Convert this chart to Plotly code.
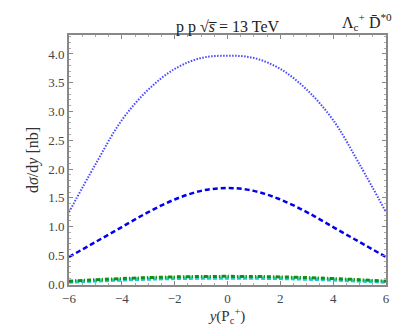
import plotly.graph_objects as go

rap = [-6, -5, -4, -3, -2, -1, 0, 1, 2, 3, 4, 5, 6]
dotted_blue = [1.25, 2.08, 2.85, 3.38, 3.74, 3.93, 3.97, 3.93, 3.74, 3.38, 2.85, 2.08, 1.25]
dashed_blue = [0.47, 0.73, 0.99, 1.25, 1.47, 1.62, 1.67, 1.62, 1.47, 1.25, 0.99, 0.73, 0.47]
green_dashdot = [0.05, 0.075, 0.095, 0.112, 0.124, 0.131, 0.133, 0.131, 0.124, 0.112, 0.095, 0.075, 0.05]
lightgreen = [0.045, 0.068, 0.088, 0.105, 0.117, 0.124, 0.126, 0.124, 0.117, 0.105, 0.088, 0.068, 0.045]
cyan_dashed = [0.03, 0.05, 0.068, 0.083, 0.094, 0.1, 0.102, 0.1, 0.094, 0.083, 0.068, 0.05, 0.03]

font = "Liberation Serif"

fig = go.Figure()
fig.add_trace(go.Scatter(x=rap, y=dotted_blue, mode="lines", line=dict(color="#4848ff", width=2, dash="1.5px,1.5px", shape="spline")))
fig.add_trace(go.Scatter(x=rap, y=dashed_blue, mode="lines", line=dict(color="#0000ee", width=2.5, dash="5px,3px", shape="spline")))
fig.add_trace(go.Scatter(x=rap, y=lightgreen, mode="lines", line=dict(color="#80d080", width=3, dash="3px,3px", shape="spline")))
fig.add_trace(go.Scatter(x=rap, y=cyan_dashed, mode="lines", line=dict(color="#20c8c8", width=3, dash="4px,2px", shape="spline")))
fig.add_trace(go.Scatter(x=rap, y=green_dashdot, mode="lines", line=dict(color="#109010", width=3, dash="4px,2px,1px,2px", shape="spline")))

fig.update_layout(
    width=407, height=326,
    margin=dict(l=61, r=29, t=27, b=49),
    paper_bgcolor="white", plot_bgcolor="white",
    showlegend=False,
    font=dict(family=font, size=13, color="#444"),
)
fig.update_xaxes(
    range=[-6, 6], tickvals=[-6, -4, -2, 0, 2, 4, 6],
    ticktext=["\u22126", "\u22124", "\u22122", "0", "2", "4", "6"],
    ticks="inside", ticklen=4, tickcolor="#888", showline=True, linecolor="#888", linewidth=2, mirror="allticks",
    showgrid=False, zeroline=False,
    title=dict(text="<i>y</i>(P<sub>c</sub><sup>+</sup>)", font=dict(size=15, color="#333"), standoff=0),
    minor=dict(ticks="inside", ticklen=2, tickcolor="#aaa", dtick=0.5),
)
fig.update_yaxes(
    range=[-0.017, 4.33], tickvals=[0, 0.5, 1, 1.5, 2, 2.5, 3, 3.5, 4],
    ticktext=["0.0", "0.5", "1.0", "1.5", "2.0", "2.5", "3.0", "3.5", "4.0"],
    ticks="inside", ticklen=4, tickcolor="#888", showline=True, linecolor="#888", linewidth=2, mirror="allticks",
    showgrid=False, zeroline=False,
    title=dict(text="d<i>σ</i>/d<i>y</i> [nb]", font=dict(size=16, color="#333"), standoff=6),
    minor=dict(ticks="inside", ticklen=2, tickcolor="#aaa", dtick=0.1),
)
fig.add_annotation(text="p p \u221a<i>s\u0305</i> = 13 TeV", xref="paper", yref="paper",
                   x=0.5, y=1.0, xanchor="center", yanchor="bottom", showarrow=False, font=dict(size=16, color="#222"), yshift=-3)
fig.add_annotation(text="Λ<sub>c</sub><sup>+</sup> D\u0304<sup>*0</sup>", xref="paper", yref="paper",
                   x=1.0, y=1.0, xanchor="right", yanchor="bottom", showarrow=False, font=dict(size=16, color="#222"), xshift=8, yshift=0)

fig.write_html("out.html")
